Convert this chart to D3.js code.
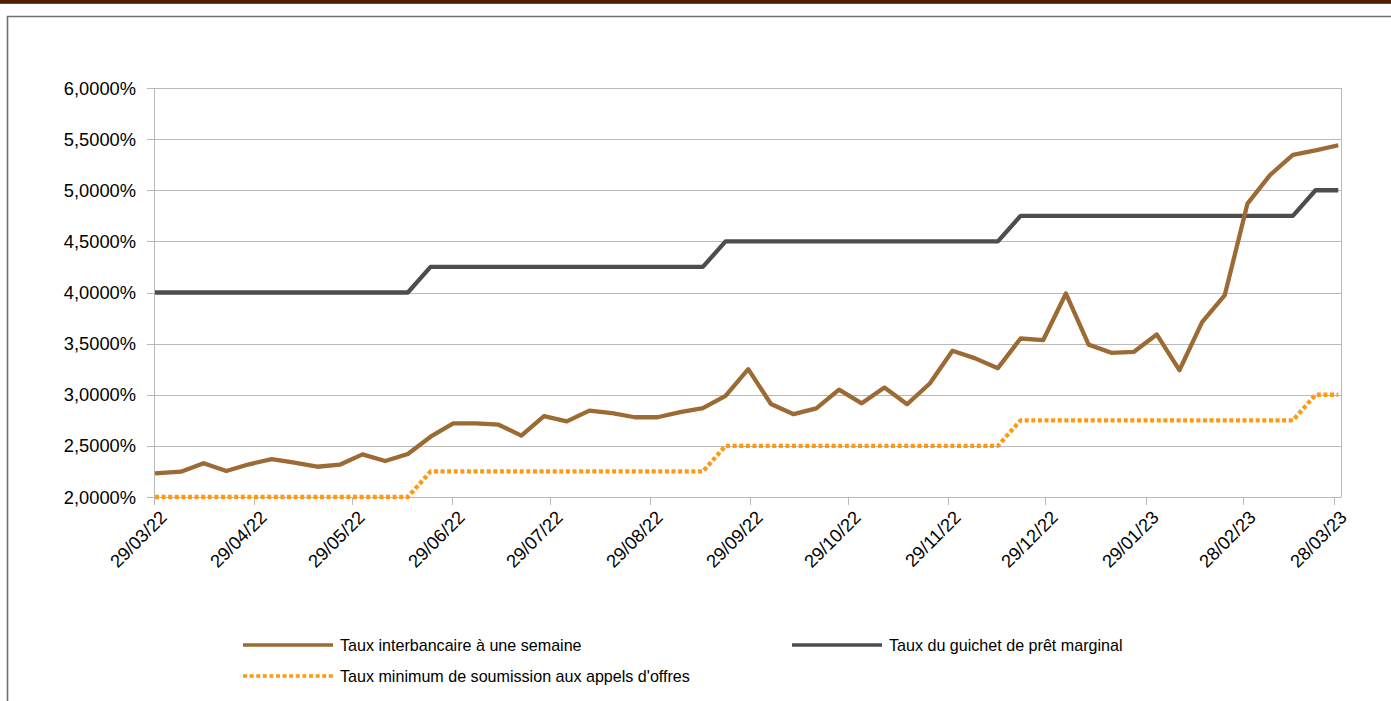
<!DOCTYPE html>
<html>
<head>
<meta charset="utf-8">
<script src="https://cdn.jsdelivr.net/npm/d3@7"></script>
<style>
  body { margin: 0; background: #fff; }
  svg { display: block; font-family: "Liberation Sans", Arial, sans-serif; }
</style>
</head>
<body>
<div class="chart"></div>
<script>
// first observation, then weekly observations
const firstDate = "29/03/22"
const weeklyStart = "06/04/22"
const interbank = [
  2.232, 2.248, 2.33, 2.254, 2.32, 2.37, 2.335, 2.296, 2.316, 2.417,
  2.352, 2.42, 2.59, 2.72, 2.72, 2.707, 2.60, 2.79, 2.74, 2.845,
  2.82, 2.78, 2.78, 2.83, 2.87, 2.99, 3.25, 2.91, 2.81, 2.867,
  3.05, 2.916, 3.07, 2.907, 3.11, 3.43, 3.356, 3.26, 3.55, 3.535,
  3.99, 3.49, 3.41, 3.42, 3.59, 3.24, 3.71, 3.975, 4.87, 5.15,
  5.345, 5.39, 5.44
]
const marginal = [
  4.00, 4.00, 4.00, 4.00, 4.00, 4.00, 4.00, 4.00, 4.00, 4.00,
  4.00, 4.00, 4.25, 4.25, 4.25, 4.25, 4.25, 4.25, 4.25, 4.25,
  4.25, 4.25, 4.25, 4.25, 4.25, 4.50, 4.50, 4.50, 4.50, 4.50,
  4.50, 4.50, 4.50, 4.50, 4.50, 4.50, 4.50, 4.50, 4.75, 4.75,
  4.75, 4.75, 4.75, 4.75, 4.75, 4.75, 4.75, 4.75, 4.75, 4.75,
  4.75, 5.00, 5.00
]
const minBid = [
  2.00, 2.00, 2.00, 2.00, 2.00, 2.00, 2.00, 2.00, 2.00, 2.00,
  2.00, 2.00, 2.25, 2.25, 2.25, 2.25, 2.25, 2.25, 2.25, 2.25,
  2.25, 2.25, 2.25, 2.25, 2.25, 2.50, 2.50, 2.50, 2.50, 2.50,
  2.50, 2.50, 2.50, 2.50, 2.50, 2.50, 2.50, 2.50, 2.75, 2.75,
  2.75, 2.75, 2.75, 2.75, 2.75, 2.75, 2.75, 2.75, 2.75, 2.75,
  2.75, 3.00, 3.00
]
const xTickLabels = [
  "29/03/22", "29/04/22", "29/05/22", "29/06/22", "29/07/22", "29/08/22",
  "29/09/22", "29/10/22", "29/11/22", "29/12/22", "29/01/23", "28/02/23", "28/03/23"
]
const yTicks = [2, 2.5, 3, 3.5, 4, 4.5, 5, 5.5, 6]
const seriesNames = [
  "Taux interbancaire à une semaine",
  "Taux du guichet de prêt marginal",
  "Taux minimum de soumission aux appels d'offres"
]

const width = 1391
const height = 701
const plot = { left: 155, right: 1341.5, top: 88, bottom: 497 }
const colors = { interbank: "#9c6a33", marginal: "#4d4d4d", minBid: "#ff9910", grid: "#b9b9b9" }

const parse = d3.timeParse("%d/%m/%y")
const t0 = parse(firstDate)
const w0 = parse(weeklyStart)
const dates = interbank.map((v, i) => (i === 0 ? t0 : d3.timeDay.offset(w0, 7 * (i - 1))))

const x = d3.scaleTime()
  .domain([t0, d3.timeDay.offset(t0, 366)])
  .range([plot.left, plot.right])
const y = d3.scaleLinear().domain([2, 6]).range([plot.bottom, plot.top])

const svg = d3.select(".chart").append("svg")
  .attr("width", width)
  .attr("height", height)

// top bar and frame
svg.append("rect").attr("x", 0).attr("y", 0).attr("width", width).attr("height", 3.8).attr("fill", "#4e1f02")
svg.append("path")
  .attr("d", `M7.5,${height} L7.5,16.5 L${width},16.5`)
  .attr("fill", "none").attr("stroke", "#707070").attr("stroke-width", 1.6)

// grid
svg.append("g")
  .selectAll("line")
  .data(yTicks)
  .enter()
  .append("line")
  .attr("x1", plot.left - 8).attr("x2", plot.right)
  .attr("y1", (d) => Math.round(y(d)) + 0.5).attr("y2", (d) => Math.round(y(d)) + 0.5)
  .attr("stroke", colors.grid)

// plot border (left / right)
svg.append("line").attr("x1", plot.left - 0.5).attr("x2", plot.left - 0.5)
  .attr("y1", plot.top).attr("y2", plot.bottom + 8).attr("stroke", colors.grid)
svg.append("line").attr("x1", plot.right).attr("x2", plot.right)
  .attr("y1", plot.top).attr("y2", plot.bottom).attr("stroke", colors.grid)

// y labels
svg.append("g")
  .selectAll("text")
  .data(yTicks)
  .enter()
  .append("text")
  .attr("x", 136)
  .attr("y", (d) => y(d))
  .attr("dy", "0.36em")
  .attr("text-anchor", "end")
  .attr("font-size", 18.3)
  .attr("fill", "#000")
  .text((d) => d.toFixed(4).replace(".", ",") + "%")

// x ticks & labels
const xt = svg.append("g")
  .selectAll("g")
  .data(xTickLabels.map(parse))
  .enter()
  .append("g")
  .attr("transform", (d) => `translate(${Math.round(x(d)) - 0.5}, 0)`)

xt.append("line")
  .attr("y1", plot.bottom).attr("y2", plot.bottom + 8)
  .attr("stroke", colors.grid)

xt.append("text")
  .attr("transform", `translate(9, ${plot.bottom + 17}) rotate(-45)`)
  .attr("text-anchor", "end")
  .attr("dy", "0.35em")
  .attr("font-size", 18.3)
  .text((d, i) => xTickLabels[i])

// lines
const line = d3.line().x((d) => x(d[0])).y((d) => y(d[1]))
const series = [
  { vals: marginal, color: colors.marginal, dash: null },
  { vals: minBid, color: colors.minBid, dash: "4,2.6" },
  { vals: interbank, color: colors.interbank, dash: null },
]
svg.append("g")
  .selectAll("path")
  .data(series)
  .enter()
  .append("path")
  .attr("fill", "none")
  .attr("stroke", (d) => d.color)
  .attr("stroke-width", 4.3)
  .attr("stroke-linejoin", "round")
  .attr("stroke-dasharray", (d) => d.dash)
  .attr("d", (d) => line(d.vals.map((v, i) => [dates[i], v])))

// legend
const legend = [
  { name: seriesNames[0], color: colors.interbank, dash: null, x: 243, y: 645 },
  { name: seriesNames[1], color: colors.marginal, dash: null, x: 792, y: 645 },
  { name: seriesNames[2], color: colors.minBid, dash: "4,2.6", x: 243, y: 676 },
]
const lg = svg.append("g")
  .selectAll("g")
  .data(legend)
  .enter()
  .append("g")
  .attr("transform", (d) => `translate(${d.x}, ${d.y})`)

lg.append("line")
  .attr("x1", 0).attr("x2", 90)
  .attr("stroke", (d) => d.color)
  .attr("stroke-width", 3.5)
  .attr("stroke-dasharray", (d) => d.dash)

lg.append("text")
  .attr("x", 97)
  .attr("dy", "0.36em")
  .attr("font-size", 16.1)
  .text((d) => d.name)
</script>
</body>
</html>
